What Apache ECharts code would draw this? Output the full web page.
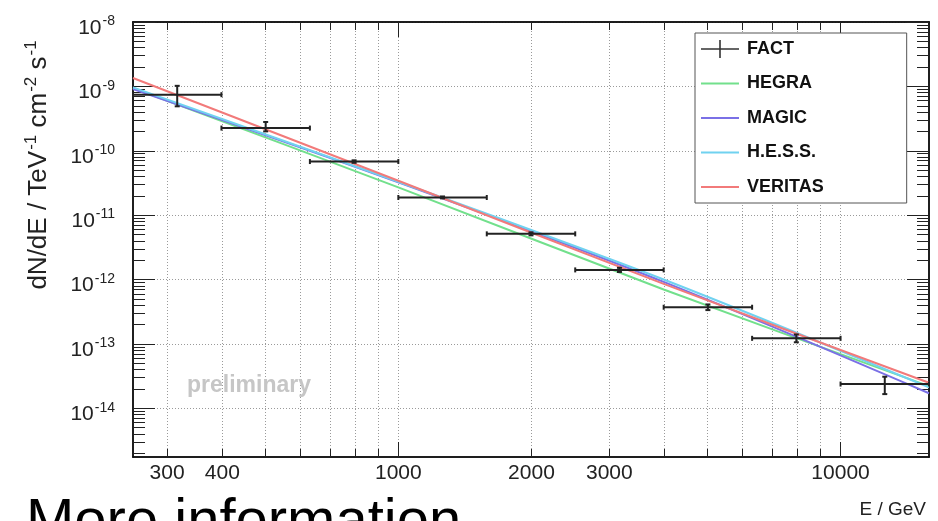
<!DOCTYPE html>
<html><head><meta charset="utf-8">
<script src="https://cdn.jsdelivr.net/npm/echarts@6/dist/echarts.min.js"></script>
<style>html,body{margin:0;padding:0;background:#fff}#c{width:938px;height:521px}</style>
</head><body><div id="c"></div>
<script>
// ---- axis ranges / ticks ----
const E_MIN = 251.19, E_MAX = 15848.9;
const F_MIN = 1.75e-15, F_MAX = 1e-8;
const xLabelValues = [300, 400, 1000, 2000, 3000, 10000];
const xMajorTicks = [1000, 10000];
const xMinorTicks = [300, 400, 500, 600, 700, 800, 900, 2000, 3000, 4000, 5000, 6000, 7000, 8000, 9000];
const yMajorTicks = [1e-15, 1e-14, 1e-13, 1e-12, 1e-11, 1e-10, 1e-9, 1e-8];
const yMinorMantissa = [2, 3, 4, 5, 6, 7, 8, 9];

// ---- FACT data points (bin centre, bin edges, flux, flux errors) ----
const factE    = [316.2, 501.2, 794.3, 1258.9, 1995.3, 3162.3, 5011.9, 7943.3, 12589];
const factElo  = [251.19, 398.1, 631.0, 1000, 1584.9, 2511.9, 3981.1, 6309.6, 10000];
const factEhi  = [398.1, 631.0, 1000, 1584.9, 2511.9, 3981.1, 6309.6, 10000, 15848.9];
const factFlux   = [7.43e-10, 2.25e-10, 6.8e-11, 1.88e-11, 5.12e-12, 1.41e-12, 3.71e-13, 1.22e-13, 2.38e-14];
const factFluxLo = [4.9e-10, 2.0e-10, 6.5e-11, 1.82e-11, 4.85e-12, 1.31e-12, 3.35e-13, 1.06e-13, 1.66e-14];
const factFluxHi = [1.02e-9, 2.8e-10, 7.1e-11, 1.95e-11, 5.4e-12, 1.52e-12, 4.1e-13, 1.4e-13, 3.09e-14];

// ---- published spectra ----
const curveE  = [251.19, 1000, 3981, 15848.9];
const hegra   = [9.44e-10, 2.70e-11, 7.01e-13, 2.21e-14];
const magic   = [9.12e-10, 3.24e-11, 9.18e-13, 1.71e-14];
const hess    = [9.64e-10, 3.30e-11, 1.0e-12, 2.11e-14];
const veritas = [1.35e-9, 3.42e-11, 8.55e-13, 2.49e-14];

const FONT = '"Liberation Sans", Arial, Helvetica, sans-serif';
const yMinorTicks = [];
yMajorTicks.forEach(d => yMinorMantissa.forEach(m => yMinorTicks.push(m * d)));

const chart = echarts.init(document.getElementById('c'), null, {renderer: 'canvas'});

const tickStyle = {color: '#222', width: 1};
function xAx(opts) {
  return Object.assign({
    type: 'log', logBase: 10, min: E_MIN, max: E_MAX, gridIndex: 0,
    axisLine: {show: true, onZero: false, lineStyle: {color: '#111', width: 1.5}},
    axisLabel: {show: false}, splitLine: {show: false}, minorTick: {show: false}
  }, opts);
}
function yAx(opts) {
  return Object.assign({
    type: 'log', logBase: 10, min: F_MIN, max: F_MAX, gridIndex: 0,
    axisLine: {show: true, onZero: false, lineStyle: {color: '#111', width: 1.5}},
    axisLabel: {show: false}, splitLine: {show: false}, minorTick: {show: false}
  }, opts);
}
const gridLine = {show: true, lineStyle: {color: '#9a9a9a', width: 1, type: [1, 2]}};

const lineSeries = (name, data, color) => ({
  name, type: 'line', xAxisIndex: 0, yAxisIndex: 0,
  data: curveE.map((e, i) => [e, data[i]]),
  symbol: 'none', smooth: 0.3, clip: true,
  lineStyle: {color, width: 2}, itemStyle: {color}, z: 3
});
const LINE_ICON = 'path://M0,0h0.01v0.01h-0.01Z M0,8.9H38V11.1H0Z M37.99,19.99h0.01v0.01h-0.01Z';

const factData = factE.map((e, i) => [e, factFlux[i], factElo[i], factEhi[i], factFluxLo[i], factFluxHi[i]]);

const option = {
  animation: false,
  backgroundColor: '#fff',
  textStyle: {fontFamily: FONT},
  grid: {left: 133, top: 22, right: 9, bottom: 64, containLabel: false},
  xAxis: [
    xAx({position: 'bottom',
      axisTick: {show: true, inside: true, length: 15, lineStyle: tickStyle, customValues: xMajorTicks},
      axisLabel: {show: true, customValues: xLabelValues, margin: 6, fontSize: 21, color: '#222', fontFamily: FONT,
        formatter: v => String(Math.round(v))},
      splitLine: gridLine}),
    xAx({position: 'bottom',
      axisTick: {show: true, inside: true, length: 8, lineStyle: tickStyle, customValues: xMinorTicks},
      splitLine: gridLine}),
    xAx({position: 'top',
      axisTick: {show: true, inside: true, length: 15, lineStyle: tickStyle, customValues: xMajorTicks}}),
    xAx({position: 'top',
      axisTick: {show: true, inside: true, length: 8, lineStyle: tickStyle, customValues: xMinorTicks}})
  ],
  yAxis: [
    yAx({position: 'left',
      axisTick: {show: true, inside: true, length: 22, lineStyle: tickStyle, customValues: yMajorTicks},
      axisLabel: {show: true, customValues: yMajorTicks.slice(1), margin: 18, fontFamily: FONT, color: '#222',
        padding: [7, 0, 0, 0],
        formatter: v => '{b|10}{s|' + Math.round(Math.log10(v)) + '}',
        rich: {
          b: {fontSize: 21, fontFamily: FONT, color: '#222', lineHeight: 22, padding: [5, 0, 0, 0]},
          s: {fontSize: 14, fontFamily: FONT, color: '#222', lineHeight: 14, verticalAlign: 'top', padding: [0, 0, 0, 1]}
        }},
      splitLine: gridLine}),
    yAx({position: 'left',
      axisTick: {show: true, inside: true, length: 12, lineStyle: tickStyle, customValues: yMinorTicks}}),
    yAx({position: 'right',
      axisTick: {show: true, inside: true, length: 22, lineStyle: tickStyle, customValues: yMajorTicks}}),
    yAx({position: 'right',
      axisTick: {show: true, inside: true, length: 12, lineStyle: tickStyle, customValues: yMinorTicks}})
  ],
  legend: {
    show: true, orient: 'vertical', left: 695, top: 33,
    padding: [6, 83, 6, 6], itemGap: 14.5, itemWidth: 38, itemHeight: 20,
    backgroundColor: '#fff', borderColor: '#555', borderWidth: 1, borderRadius: 0,
    textStyle: {fontSize: 18, fontWeight: 'bold', color: '#111', fontFamily: FONT, lineHeight: 20, padding: [0, 0, 0, 3]},
    selectedMode: false,
    data: [
      {name: 'FACT', icon: 'path://M0,9.2H38V10.8H0Z M18.2,1H19.8V19H18.2Z', itemStyle: {color: '#333'}},
      {name: 'HEGRA', icon: LINE_ICON, itemStyle: {color: '#72e08c'}},
      {name: 'MAGIC', icon: LINE_ICON, itemStyle: {color: '#7a70e6'}},
      {name: 'H.E.S.S.', icon: LINE_ICON, itemStyle: {color: '#70d2f0'}},
      {name: 'VERITAS', icon: LINE_ICON, itemStyle: {color: '#f27a7a'}}
    ]
  },
  series: [
    lineSeries('HEGRA', hegra, '#72e08c'),
    lineSeries('MAGIC', magic, '#7a70e6'),
    lineSeries('H.E.S.S.', hess, '#70d2f0'),
    lineSeries('VERITAS', veritas, '#f27a7a'),
    {
      name: 'FACT', type: 'custom', xAxisIndex: 0, yAxisIndex: 0, z: 5,
      itemStyle: {color: '#333'},
      encode: {x: [0, 2, 3], y: [1, 4, 5]},
      data: factData,
      renderItem: (params, api) => {
        const c = api.coord([api.value(0), api.value(1)]);
        const l = api.coord([api.value(2), api.value(1)]);
        const r = api.coord([api.value(3), api.value(1)]);
        const lo = api.coord([api.value(0), api.value(4)]);
        const hi = api.coord([api.value(0), api.value(5)]);
        const st = {stroke: '#222', lineWidth: 2};
        const cap = 2.5;
        const ln = (x1, y1, x2, y2) => ({type: 'line', shape: {x1, y1, x2, y2}, style: st});
        return {type: 'group', children: [
          ln(l[0], c[1], r[0], r[1]),
          ln(lo[0], lo[1], hi[0], hi[1]),
          ln(l[0], c[1] - cap, l[0], c[1] + cap),
          ln(r[0], c[1] - cap, r[0], c[1] + cap),
          ln(lo[0] - cap, lo[1], lo[0] + cap, lo[1]),
          ln(hi[0] - cap, hi[1], hi[0] + cap, hi[1])
        ]};
      }
    }
  ],
  graphic: [
    {type: 'text', x: 36, y: 165, rotation: Math.PI / 2, z: 10,
      style: {text: '{m|dN/dE / TeV}{s|-1}{m| cm}{s|-2}{m| s}{s|-1}', align: 'center', verticalAlign: 'middle',
        rich: {
          m: {fontSize: 26, fontFamily: FONT, fill: '#222', lineHeight: 27, padding: [6, 0, 0, 0]},
          s: {fontSize: 17, fontFamily: FONT, fill: '#222', lineHeight: 17, verticalAlign: 'top', padding: [0, 0, 0, 1]}
        }}},
    {type: 'text', x: 926, y: 510, z: 10,
      style: {text: 'E / GeV', fontSize: 19, fontFamily: FONT, fill: '#222', align: 'right', verticalAlign: 'middle'}},
    {type: 'text', x: 249, y: 386, z: 10,
      style: {text: 'preliminary', fontSize: 23, fontWeight: 'bold', fontFamily: FONT, fill: '#c6c6c6', align: 'center', verticalAlign: 'middle'}},
    {type: 'text', x: 26, y: 523, z: 10,
      style: {text: 'More information', fontSize: 58, fontFamily: FONT, fill: '#000', align: 'left', verticalAlign: 'middle'}}
  ]
};
chart.setOption(option);
</script>
</body></html>
